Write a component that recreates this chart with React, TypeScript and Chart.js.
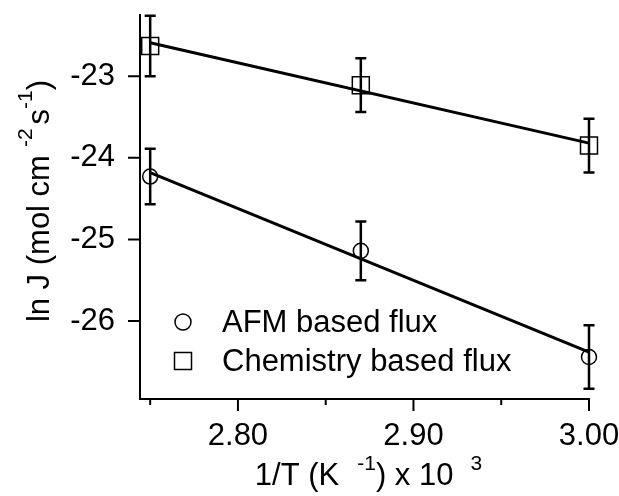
import { useEffect, useRef } from "react";
import { Chart, registerables } from "chart.js";

Chart.register(...registerables);

// ---- data ----
const invTemp = [2.75, 2.87, 3.0];
const afmFlux = [-24.23, -25.14, -26.44];
const afmErr = [0.34, 0.36, 0.39];
const chemFlux = [-22.63, -23.11, -23.85];
const chemErr = [0.37, 0.33, 0.33];
const fitX = [2.75, 3.0];
const afmFit = [-24.18, -26.38];
const chemFit = [-22.59, -23.82];
const xMajorTicks = [2.8, 2.9, 3.0];
const xMinorTicks = [2.75, 2.85, 2.95];
const yTicks = [-23, -24, -25, -26];
const seriesLabels = ["AFM based flux", "Chemistry based flux"];
// [text, isSuperscript, gap before (px)]
const xTitleParts: [string, boolean, number][] = [
  ["1/T (K", false, 0],
  ["-1", true, 18],
  [") x 10", false, 0],
  ["3", true, 17],
];
const yTitleParts: [string, boolean, number][] = [
  ["ln J (mol cm", false, 0],
  ["-2", true, 8],
  ["s", false, 4],
  ["-1", true, 0],
  [")", false, 0],
];

const FONT = '"Liberation Sans", Arial, Helvetica, sans-serif';
const MAIN = `31px ${FONT}`;
const SUP = `21px ${FONT}`;

function drawRich(ctx: CanvasRenderingContext2D, parts: [string, boolean, number][], cx: number, baseline: number, raise: number) {
  const widths = parts.map(([t, s]) => {
    ctx.font = s ? SUP : MAIN;
    return ctx.measureText(t).width;
  });
  const total = widths.reduce((a, b) => a + b, 0) + parts.reduce((a, p) => a + p[2], 0);
  let x = cx - total / 2;
  ctx.textAlign = "left";
  ctx.textBaseline = "alphabetic";
  parts.forEach(([t, s, g], i) => {
    x += g;
    ctx.font = s ? SUP : MAIN;
    ctx.fillText(t, x, s ? baseline - raise : baseline);
    x += widths[i];
  });
}

const decorPlugin = {
  id: "decor",
  afterDatasetsDraw(chart: any) {
    const ctx: CanvasRenderingContext2D = chart.ctx;
    const xs = chart.scales.x;
    const ys = chart.scales.y;
    const area = chart.chartArea;
    ctx.save();
    ctx.strokeStyle = "#000";
    ctx.fillStyle = "#000";

    // error bars
    ctx.lineWidth = 2.5;
    chart.data.datasets.forEach((ds: any) => {
      if (!ds.errorBars) return;
      ds.data.forEach((p: any, i: number) => {
        const e = ds.errorBars[i];
        const px = xs.getPixelForValue(p.x);
        const top = ys.getPixelForValue(p.y + e);
        const bot = ys.getPixelForValue(p.y - e);
        ctx.beginPath();
        ctx.moveTo(px, top);
        ctx.lineTo(px, bot);
        ctx.moveTo(px - 5.5, top);
        ctx.lineTo(px + 5.5, top);
        ctx.moveTo(px - 5.5, bot);
        ctx.lineTo(px + 5.5, bot);
        ctx.stroke();
      });
    });

    // tick marks
    ctx.lineWidth = 2;
    ctx.beginPath();
    xMajorTicks.forEach((v) => {
      const px = xs.getPixelForValue(v);
      ctx.moveTo(px, area.bottom);
      ctx.lineTo(px, area.bottom + 12);
    });
    xMinorTicks.forEach((v) => {
      const px = xs.getPixelForValue(v);
      ctx.moveTo(px, area.bottom);
      ctx.lineTo(px, area.bottom + 6);
    });
    yTicks.forEach((v) => {
      const py = ys.getPixelForValue(v);
      ctx.moveTo(area.left, py);
      ctx.lineTo(area.left - 12, py);
    });
    ctx.stroke();

    // legend
    const lx = area.left + 43;
    const ly = [322, 361];
    const pointSets = chart.data.datasets.filter((d: any) => d.errorBars);
    pointSets.forEach((ds: any, i: number) => {
      ctx.lineWidth = 1.5;
      ctx.beginPath();
      if (ds.pointStyle === "circle") {
        ctx.arc(lx, ly[i], 8, 0, Math.PI * 2);
      } else {
        ctx.rect(lx - 8.5, ly[i] - 8.5, 17, 17);
      }
      ctx.stroke();
      ctx.font = MAIN;
      ctx.textAlign = "left";
      ctx.textBaseline = "alphabetic";
      ctx.fillText(ds.label, lx + 39, ly[i] + 10);
    });

    // axis titles
    drawRich(ctx, xTitleParts, (area.left + area.right) / 2 + 4, 485, 15);
    ctx.translate(49, (area.top + area.bottom) / 2 - 6);
    ctx.rotate(-Math.PI / 2);
    drawRich(ctx, yTitleParts, 0, 0, 17);
    ctx.restore();
  },
};

export default function App() {
  const ref = useRef<HTMLCanvasElement>(null);
  useEffect(() => {
    document.body.style.margin = "0";
    const chart = new Chart(ref.current!, {
      type: "scatter",
      data: {
        datasets: [
          {
            type: "line",
            label: "afmFit",
            data: fitX.map((x, i) => ({ x, y: afmFit[i] })),
            borderColor: "#000",
            borderWidth: 3,
            pointRadius: 0,
            fill: false,
            clip: false,
          } as any,
          {
            type: "line",
            label: "chemFit",
            data: fitX.map((x, i) => ({ x, y: chemFit[i] })),
            borderColor: "#000",
            borderWidth: 3,
            pointRadius: 0,
            fill: false,
            clip: false,
          } as any,
          {
            label: seriesLabels[0],
            data: invTemp.map((x, i) => ({ x, y: afmFlux[i] })),
            errorBars: afmErr,
            pointStyle: "circle",
            pointRadius: 7.5,
            borderWidth: 1.5,
            borderColor: "#000",
            backgroundColor: "rgba(0,0,0,0)",
            showLine: false,
            clip: false,
          } as any,
          {
            label: seriesLabels[1],
            data: invTemp.map((x, i) => ({ x, y: chemFlux[i] })),
            errorBars: chemErr,
            pointStyle: "rect",
            pointRadius: 12,
            borderWidth: 1.5,
            borderColor: "#000",
            backgroundColor: "rgba(0,0,0,0)",
            showLine: false,
            clip: false,
          } as any,
        ],
      },
      options: {
        responsive: false,
        animation: false,
        layout: { padding: { top: 15, right: 30, left: 0, bottom: 0 } },
        plugins: { legend: { display: false }, tooltip: { enabled: false } },
        scales: {
          x: {
            type: "linear",
            min: 2.7442,
            max: 3.0,
            afterBuildTicks: (s: any) => {
              s.ticks = xMajorTicks.map((v) => ({ value: v }));
            },
            afterFit: (s: any) => {
              s.height = 97;
              s.paddingLeft = 0;
              s.paddingRight = 0;
            },
            ticks: {
              callback: (v: any) => Number(v).toFixed(2),
              font: { size: 31, family: FONT },
              color: "#000",
              padding: 19,
              maxRotation: 0,
              autoSkip: false,
            },
            grid: { display: false, drawTicks: false },
            border: { display: true, color: "#000", width: 2 },
          },
          y: {
            type: "linear",
            min: -26.955,
            max: -22.25,
            afterBuildTicks: (s: any) => {
              s.ticks = yTicks.map((v) => ({ value: v }));
            },
            afterFit: (s: any) => {
              s.width = 140;
              s.paddingTop = 0;
              s.paddingBottom = 0;
            },
            ticks: {
              callback: (v: any) => String(v),
              font: { size: 31, family: FONT },
              color: "#000",
              padding: 25,
              autoSkip: false,
            },
            grid: { display: false, drawTicks: false },
            border: { display: true, color: "#000", width: 2 },
          },
        },
      },
      plugins: [decorPlugin],
    });
    return () => chart.destroy();
  }, []);
  return (
    <div style={{ position: "absolute", left: 0, top: 0, width: 619, height: 496, background: "#fff" }}>
      <canvas ref={ref} width={619} height={496} />
    </div>
  );
}
